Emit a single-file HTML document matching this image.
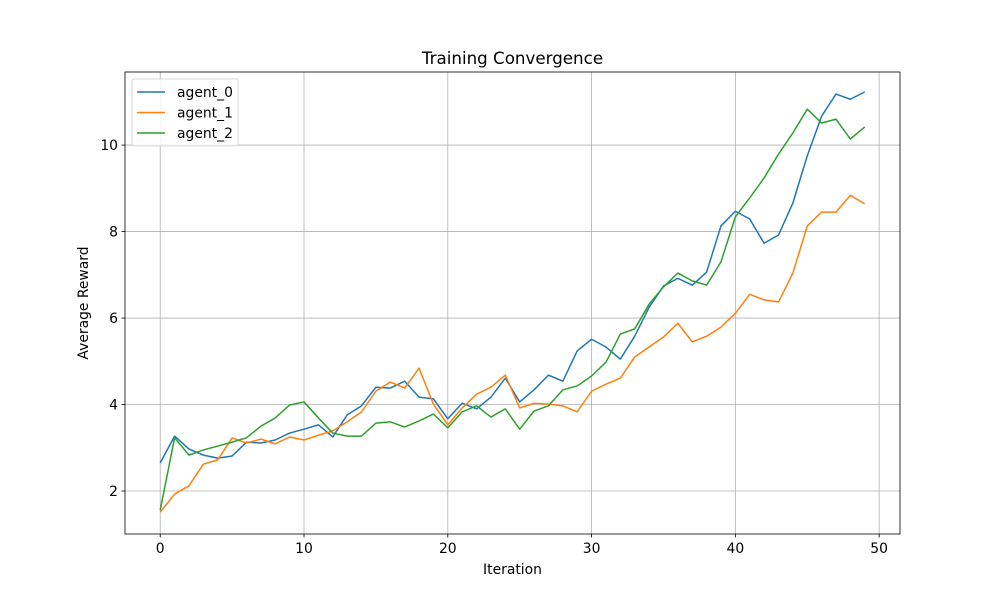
<!DOCTYPE html>
<html><head><meta charset="utf-8"><style>
body{margin:0;background:#fff;font-family:"Liberation Sans","DejaVu Sans",sans-serif}
svg text{font-family:"DejaVu Sans","Liberation Sans",sans-serif;fill:#000}
</style></head><body>
<svg id="chart" width="1000" height="600" xmlns="http://www.w3.org/2000/svg"></svg>
<script>
const iterations = Array.from({length:50},(_, i)=>i);
const agent0 = [2.65,3.27,2.97,2.83,2.76,2.81,3.13,3.11,3.18,3.34,3.43,3.53,3.25,3.76,3.97,4.40,4.38,4.54,4.17,4.13,3.67,4.03,3.90,4.17,4.61,4.06,4.34,4.68,4.54,5.24,5.51,5.33,5.05,5.58,6.25,6.74,6.92,6.76,7.06,8.13,8.47,8.29,7.73,7.92,8.66,9.75,10.67,11.18,11.06,11.23];
const agent1 = [1.51,1.93,2.12,2.62,2.72,3.23,3.11,3.20,3.09,3.25,3.18,3.29,3.39,3.60,3.83,4.31,4.52,4.38,4.84,4.01,3.53,3.92,4.24,4.40,4.68,3.92,4.03,4.01,3.97,3.83,4.31,4.47,4.61,5.10,5.33,5.56,5.88,5.45,5.58,5.79,6.11,6.55,6.42,6.37,7.04,8.13,8.45,8.45,8.84,8.64];
const agent2 = [1.56,3.23,2.83,2.95,3.04,3.13,3.23,3.50,3.69,3.99,4.06,3.69,3.34,3.27,3.27,3.57,3.60,3.48,3.62,3.78,3.46,3.83,3.97,3.71,3.90,3.43,3.85,3.97,4.34,4.43,4.66,4.98,5.63,5.75,6.32,6.72,7.04,6.86,6.76,7.30,8.34,8.78,9.24,9.79,10.28,10.83,10.51,10.60,10.14,10.42];
const xTicks = [0,10,20,30,40,50];
const yTicks = [2,4,6,8,10];
const seriesNames = ["agent_0","agent_1","agent_2"];
const colors = ["#1f77b4","#ff7f0e","#2ca02c"];

const L=125,R=900,T=72,B=534;
const xMin=-2.45,xMax=51.45,yMin=1.006,yMax=11.69;
const X=v=>L+(v-xMin)/(xMax-xMin)*(R-L);
const Y=v=>B-(v-yMin)/(yMax-yMin)*(B-T);
const svg=document.getElementById('chart');
const NS="http://www.w3.org/2000/svg";
function mk(tag,attrs,parent){const e=document.createElementNS(NS,tag);for(const k in attrs)e.setAttribute(k,attrs[k]);(parent||svg).appendChild(e);return e;}

xTicks.forEach(t=>{
  const g=mk('line',{x1:X(t),x2:X(t),y1:T,y2:B,stroke:'#b0b0b0','stroke-width':0.8});
  
  
  mk('line',{x1:X(t),x2:X(t),y1:B,y2:B+3.5,stroke:'#000','stroke-width':0.8});
  const tx=mk('text',{x:X(t),y:B+19,'text-anchor':'middle','font-size':13.9});
  tx.textContent=t;
  
  
});
yTicks.forEach(t=>{
  const g=mk('line',{x1:L,x2:R,y1:Y(t),y2:Y(t),stroke:'#b0b0b0','stroke-width':0.8});
  
  
  mk('line',{x1:L-3.5,x2:L,y1:Y(t),y2:Y(t),stroke:'#000','stroke-width':0.8});
  const tx=mk('text',{x:L-7,y:Y(t)+5,'text-anchor':'end','font-size':13.9});
  tx.textContent=t;
  
  
});
[agent0,agent1,agent2].forEach((s,i)=>{
  const p=mk('polyline',{points:s.map((v,j)=>X(iterations[j])+','+Y(v)).join(' '),fill:'none',stroke:colors[i],'stroke-width':1.5,'stroke-linejoin':'round'});
  
  
});
const frame=mk('rect',{x:L,y:T,width:R-L,height:B-T,fill:'none',stroke:'#000','stroke-width':0.8});



const title=mk('text',{x:(L+R)/2,y:64,'text-anchor':'middle','font-size':16.7});
title.textContent='Training Convergence';


const xl=mk('text',{x:(L+R)/2,y:574,'text-anchor':'middle','font-size':13.9});
xl.textContent='Iteration';


const yl=mk('text',{x:88,y:(T+B)/2,'text-anchor':'middle','font-size':13.9,transform:'rotate(-90 88 '+((T+B)/2)+')'});
yl.textContent='Average Reward';



const lg=mk('g',{});


mk('rect',{x:132,y:79,width:106,height:67,rx:2,fill:'#fff','fill-opacity':0.8,stroke:'#ccc','stroke-width':0.8},lg);
seriesNames.forEach((n,i)=>{
  const y=92+i*20.5;
  mk('line',{x1:137,x2:165,y1:y,y2:y,stroke:colors[i],'stroke-width':1.5},lg);
  const t=mk('text',{x:177,y:y+5,'font-size':13.9},lg);
  t.textContent=n;
  
  
});
</script>
</body></html>
